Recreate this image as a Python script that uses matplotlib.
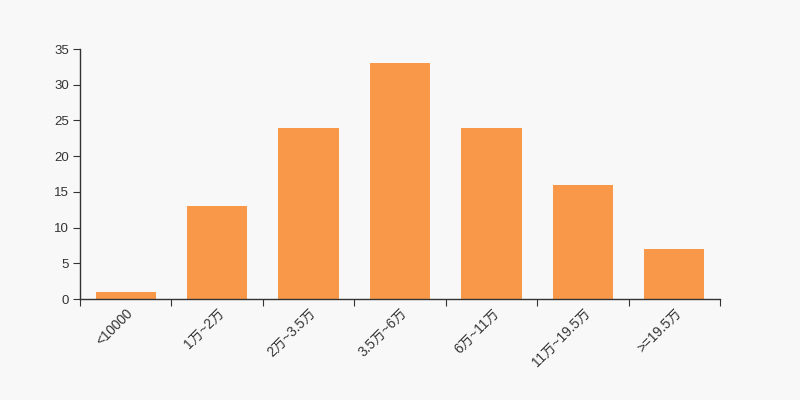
import matplotlib
matplotlib.use("Agg")
import matplotlib.pyplot as plt
import matplotlib.transforms as mtransforms
import numpy as np

plt.rcParams['font.family'] = ['Liberation Sans', 'Noto Sans CJK SC', 'DejaVu Sans']

categories = ['<10000', '1万~2万', '2万~3.5万', '3.5万~6万', '6万~11万', '11万~19.5万', '>=19.5万']
values = [1, 13, 24, 33, 24, 16, 7]

bg = '#f8f8f8'
fig = plt.figure(figsize=(8, 4), dpi=100, facecolor=bg)
ax = fig.add_axes([0.1, 0.2525, 0.8, 0.625], facecolor=bg)

x = np.arange(len(categories))
ax.bar(x, values, width=0.66, color='#f89848', zorder=2)

ax.set_xlim(-0.5, len(categories) - 0.5)
ax.set_ylim(0, 35)
ax.set_yticks(np.arange(0, 36, 5))

ax.set_xticks(np.arange(-0.5, len(categories), 1.0))
ax.set_xticklabels([])
ax.set_xticks(x, minor=True)
ax.set_xticklabels(categories, minor=True, rotation=45, ha='right', va='top',
                   rotation_mode='anchor', fontsize=9.8, color='#333333')
offset = mtransforms.ScaledTranslation(-3 / 100, 0, fig.dpi_scale_trans)
for lbl in ax.get_xticklabels(minor=True):
    lbl.set_transform(lbl.get_transform() + offset)
ax.tick_params(axis='x', which='minor', length=0, pad=5)
ax.tick_params(axis='x', which='major', length=5, color='#333333', direction='out')
ax.tick_params(axis='y', length=5, color='#333333', labelsize=9.5, labelcolor='#333333', pad=3)

for s in ['top', 'right']:
    ax.spines[s].set_visible(False)
for s in ['left', 'bottom']:
    ax.spines[s].set_color('#333333')
    ax.spines[s].set_linewidth(1)

fig.savefig('out.png', dpi=100, facecolor=bg)
